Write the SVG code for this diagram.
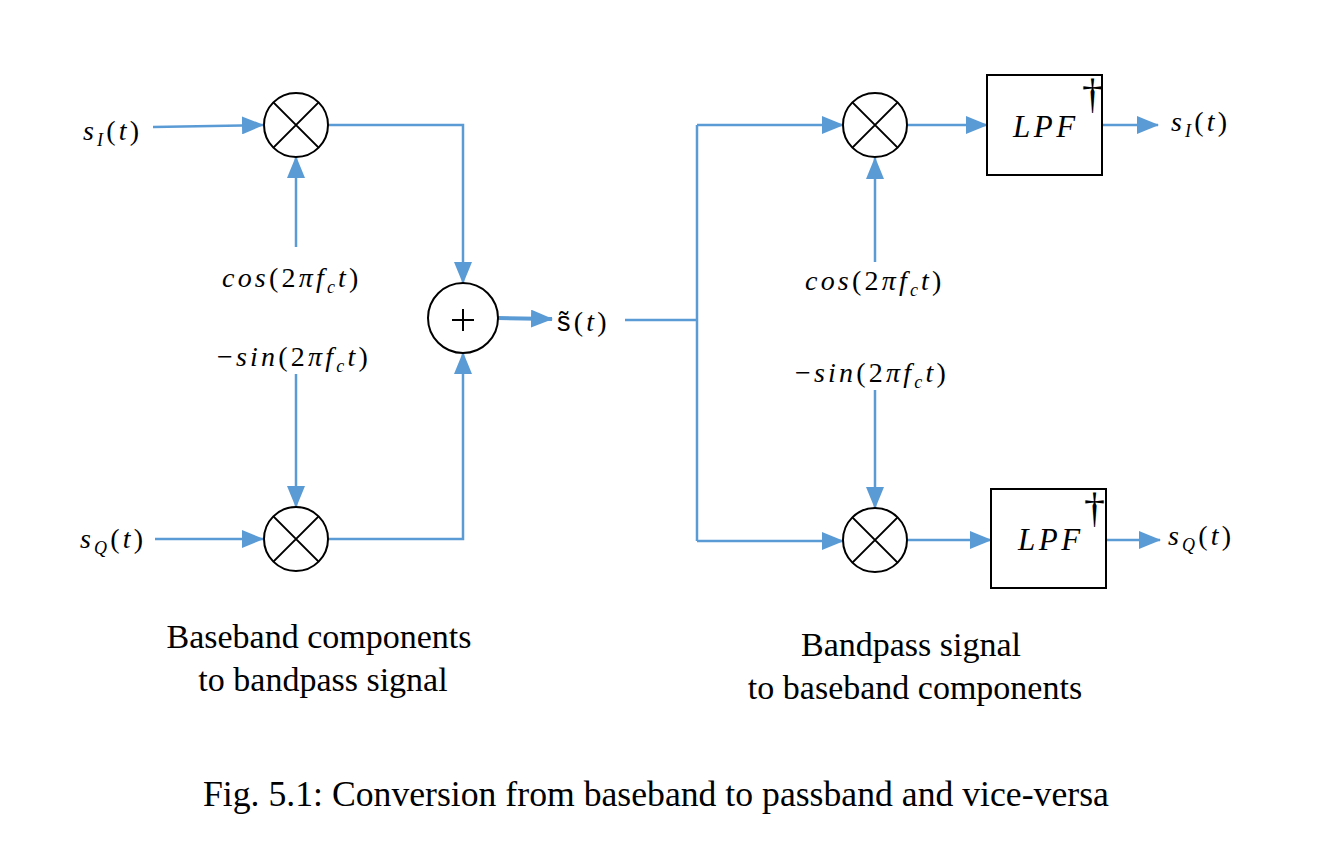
<svg xmlns="http://www.w3.org/2000/svg" width="1317" height="842" viewBox="0 0 1317 842">
<defs>
<style>
.ln{fill:none;stroke:#5B9BD5;stroke-width:2.5}
.thick{stroke-width:4}
.node{fill:#fff;stroke:#000;stroke-width:2}
.x{stroke:#000;stroke-width:2}
.m{font-family:"Liberation Serif",serif;font-size:28px;fill:#000;letter-spacing:3.2px}
.i{font-style:italic}
.sub{font-size:18px;font-style:italic}
.lpf{font-family:"Liberation Serif",serif;font-size:31px;font-style:italic;fill:#000;letter-spacing:3.5px}
.dag{font-family:"Liberation Serif",serif;font-size:42px;fill:#000}
.cap{font-family:"Liberation Serif",serif;font-size:34px;fill:#000;text-anchor:middle}
.fig{font-family:"Liberation Serif",serif;font-size:35.7px;fill:#000}
</style>
<marker id="ah" markerUnits="userSpaceOnUse" markerWidth="22" markerHeight="18" refX="21" refY="9" orient="auto">
<path d="M0,0 L22,9 L0,18 Z" fill="#5B9BD5"/>
</marker>
</defs>

<g id="connectors">
<path class="ln" d="M153,127 L263,125" marker-end="url(#ah)"/>
<path class="ln" d="M296,247 L296,157" marker-end="url(#ah)"/>
<path class="ln" d="M296,374 L296,507" marker-end="url(#ah)"/>
<path class="ln" d="M155,539 L263,539" marker-end="url(#ah)"/>
<path class="ln" d="M328,125 L463,125 L463,283" marker-end="url(#ah)"/>
<path class="ln" d="M328,539 L463,539 L463,353" marker-end="url(#ah)"/>
<path class="ln thick" d="M498,318 L552,319" marker-end="url(#ah)"/>
<path class="ln" d="M625,320 L697,320"/>
<path class="ln" d="M697,125 L697,541"/>
<path class="ln" d="M697,125 L843,125" marker-end="url(#ah)"/>
<path class="ln" d="M697,541 L843,541" marker-end="url(#ah)"/>
<path class="ln" d="M908,125 L987,125" marker-end="url(#ah)"/>
<path class="ln" d="M875,262 L875,158" marker-end="url(#ah)"/>
<path class="ln" d="M1102,125 L1158,125" marker-end="url(#ah)"/>
<path class="ln" d="M875,390 L875,508" marker-end="url(#ah)"/>
<path class="ln" d="M908,540 L991,540" marker-end="url(#ah)"/>
<path class="ln" d="M1106,540 L1160,540" marker-end="url(#ah)"/>
</g>

<g id="mult1">
<circle class="node" cx="296" cy="125" r="32"/>
<path class="x" d="M273.4,102.4 L318.6,147.6 M318.6,102.4 L273.4,147.6"/>
</g>
<g id="mult2">
<circle class="node" cx="296" cy="539" r="32"/>
<path class="x" d="M273.4,516.4 L318.6,561.6 M318.6,516.4 L273.4,561.6"/>
</g>
<g id="sum">
<circle class="node" cx="463" cy="318" r="35"/>
<path class="x" d="M452,320 L474,320 M463,309 L463,331"/>
</g>
<g id="mult3">
<circle class="node" cx="875" cy="125" r="32"/>
<path class="x" d="M852.4,102.4 L897.6,147.6 M897.6,102.4 L852.4,147.6"/>
</g>
<g id="mult4">
<circle class="node" cx="875" cy="540" r="32"/>
<path class="x" d="M852.4,517.4 L897.6,562.6 M897.6,517.4 L852.4,562.6"/>
</g>
<g id="lpf1">
<rect class="node" x="987" y="75" width="115" height="100"/>
<text class="lpf" x="1013" y="137">LPF</text>
<text class="dag" x="1082" y="108">†</text>
</g>
<g id="lpf2">
<rect class="node" x="991" y="489" width="115" height="99"/>
<text class="lpf" x="1018" y="550">LPF</text>
<text class="dag" x="1084" y="522">†</text>
</g>

<g id="labels">
<text class="m" x="83" y="140"><tspan class="i">s</tspan><tspan class="sub" dy="6">I</tspan><tspan dy="-6">(</tspan><tspan class="i">t</tspan>)</text>
<text class="m" x="80" y="548"><tspan class="i">s</tspan><tspan class="sub" dy="6">Q</tspan><tspan dy="-6">(</tspan><tspan class="i">t</tspan>)</text>
<text class="m" x="222" y="287"><tspan class="i">cos</tspan>(2<tspan class="i">πf</tspan><tspan class="sub" dy="6">c</tspan><tspan class="i" dy="-6">t</tspan>)</text>
<text class="m" x="217" y="366">−<tspan class="i">sin</tspan>(2<tspan class="i">πf</tspan><tspan class="sub" dy="6">c</tspan><tspan class="i" dy="-6">t</tspan>)</text>
<text class="m" x="805" y="290"><tspan class="i">cos</tspan>(2<tspan class="i">πf</tspan><tspan class="sub" dy="6">c</tspan><tspan class="i" dy="-6">t</tspan>)</text>
<text class="m" x="795" y="382">−<tspan class="i">sin</tspan>(2<tspan class="i">πf</tspan><tspan class="sub" dy="6">c</tspan><tspan class="i" dy="-6">t</tspan>)</text>
<text class="m" x="1171" y="131"><tspan class="i">s</tspan><tspan class="sub" dy="6">I</tspan><tspan dy="-6">(</tspan><tspan class="i">t</tspan>)</text>
<text class="m" x="1168" y="545"><tspan class="i">s</tspan><tspan class="sub" dy="6">Q</tspan><tspan dy="-6">(</tspan><tspan class="i">t</tspan>)</text>
<text class="m" x="557" y="331"><tspan font-family="Liberation Sans,sans-serif" font-size="27">s&#x303;</tspan>(<tspan class="i">t</tspan>)</text>
</g>

<g id="captions">
<text class="cap" x="319" y="648">Baseband components</text>
<text class="cap" x="323" y="691">to bandpass signal</text>
<text class="cap" x="911" y="656">Bandpass signal</text>
<text class="cap" x="915" y="699">to baseband components</text>
<text class="fig" x="203" y="806">Fig. 5.1: Conversion from baseband to passband and vice-versa</text>
</g>
</svg>
